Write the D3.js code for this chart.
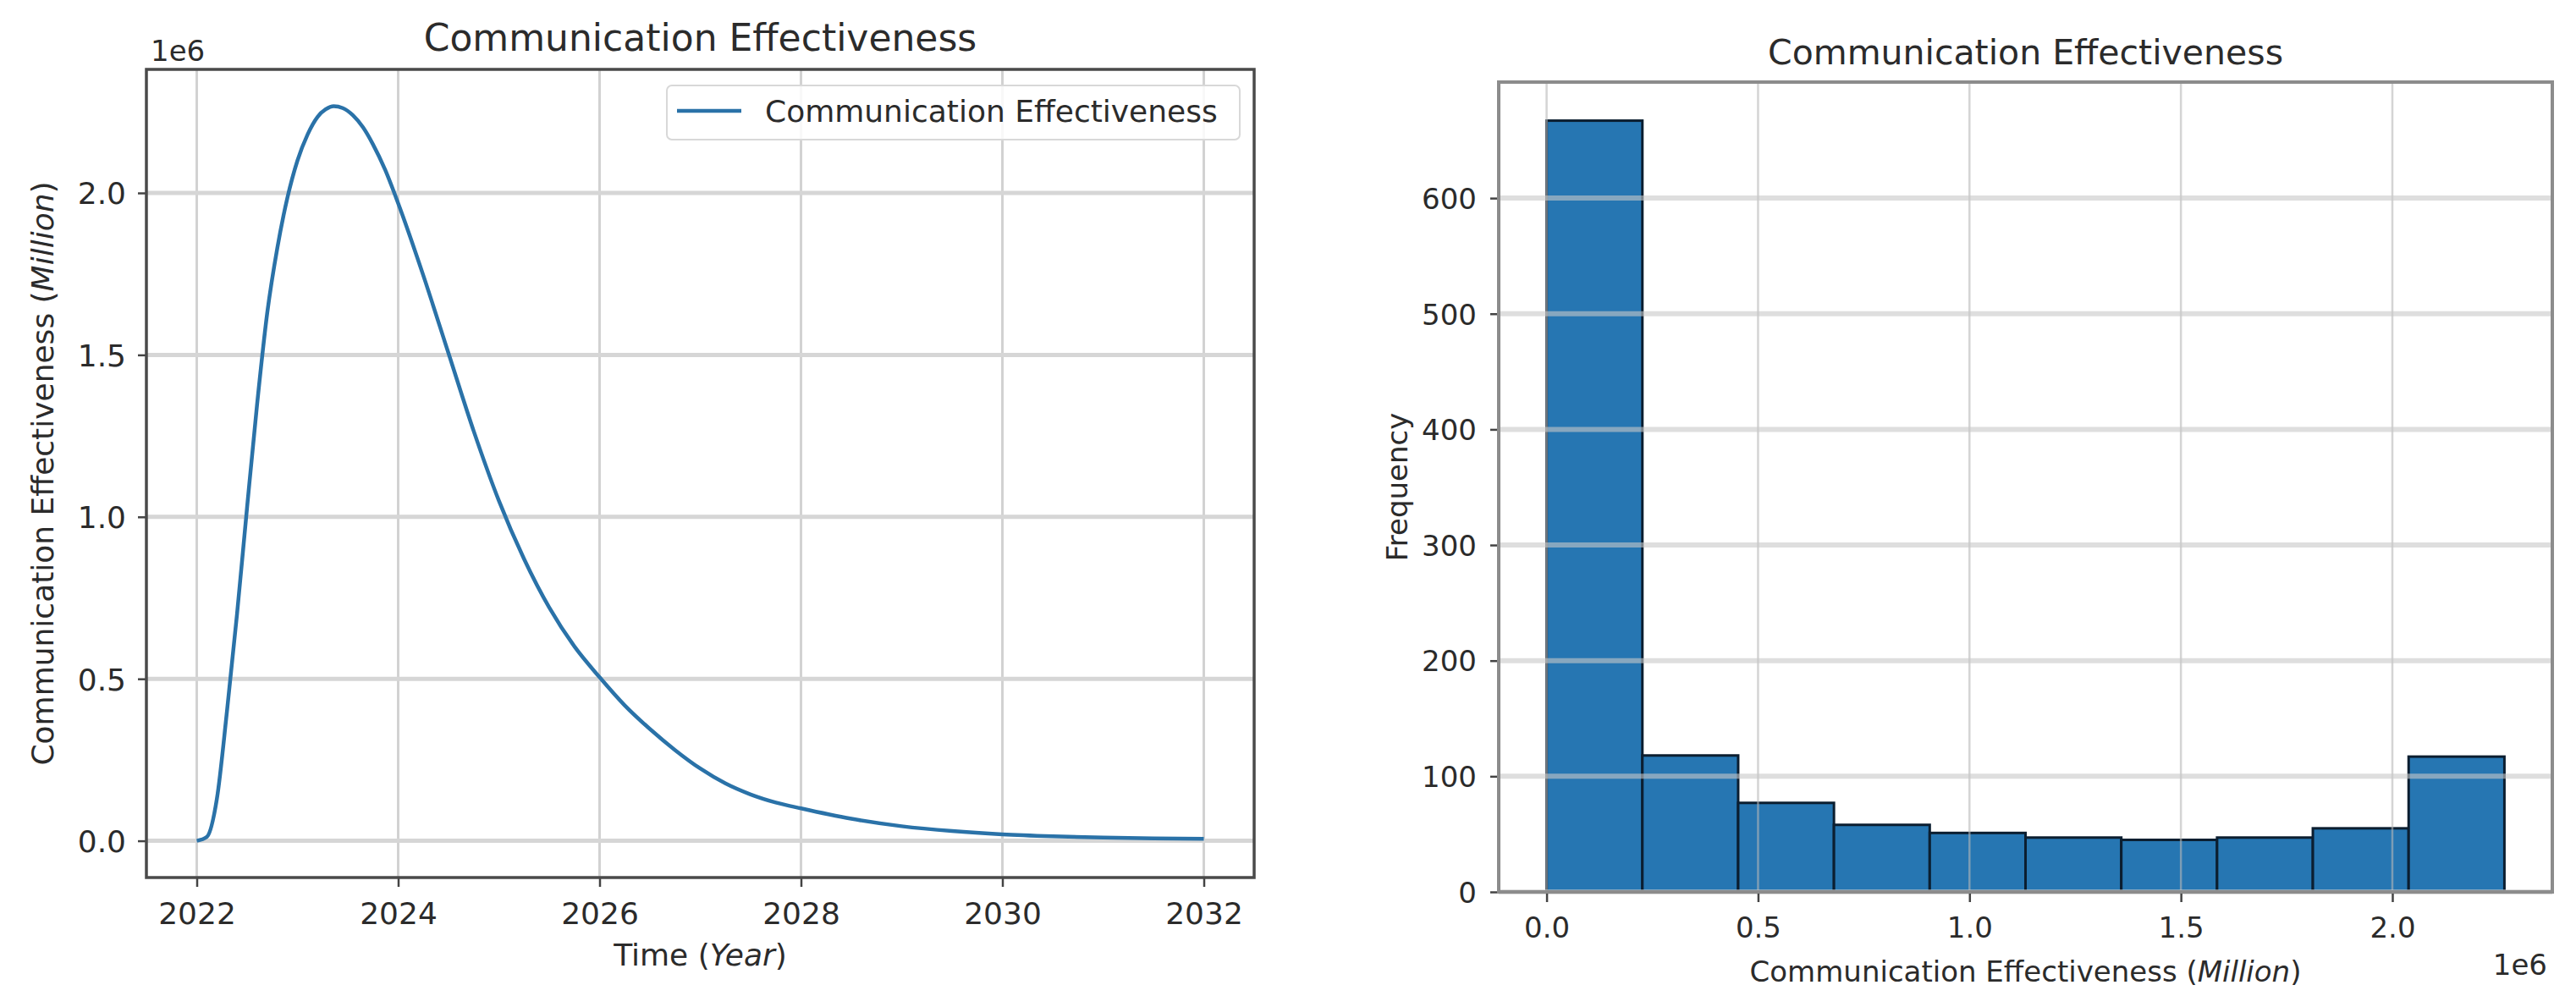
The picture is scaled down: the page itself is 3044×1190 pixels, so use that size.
<!DOCTYPE html>
<html>
<head>
<meta charset="utf-8">
<script src="https://cdn.jsdelivr.net/npm/d3@7"></script>
<style>
  html, body { margin: 0; padding: 0; background: #ffffff; }
  svg { display: block; }
  text { font-family: "DejaVu Sans", sans-serif; fill: #2b2b2b; }
</style>
</head>
<body>
<svg id="chart" width="3044" height="1190"></svg>
<script>
// ---------------- DATA ----------------
const chartTitle = "Communication Effectiveness";
const seriesName = "Communication Effectiveness";

// Line chart: time (years) and communication effectiveness (raw units)
const timeYears = [2022.0, 2022.1, 2022.2, 2022.3, 2022.4, 2022.5, 2022.6, 2022.7, 2022.8, 2022.9,
  2023.0, 2023.1, 2023.2, 2023.28, 2023.36, 2023.45, 2023.55, 2023.65, 2023.75, 2023.87,
  2024.0, 2024.25, 2024.5, 2024.75, 2025.0, 2025.25, 2025.5, 2025.75, 2026.0, 2026.25,
  2026.5, 2026.75, 2027.0, 2027.25, 2027.5, 2027.75, 2028.0, 2028.5, 2029.0, 2029.5,
  2030.0, 2030.5, 2031.0, 2031.5, 2032.0];
const effectiveness = [0, 12000, 130000, 400000, 700000, 1030000, 1350000, 1630000, 1830000, 1985000,
  2100000, 2180000, 2235000, 2258000, 2268000, 2262000, 2240000, 2203000, 2150000, 2072000,
  1968000, 1745000, 1505000, 1265000, 1050000, 870000, 720000, 600000, 505000, 418000,
  345000, 280000, 223000, 177000, 143000, 118000, 100000, 68000, 45000, 30000,
  20000, 14000, 10000, 7500, 6000];

// Histogram: 10 bins from 0 to 2.265e6
const binEdges = [0, 226500, 453000, 679500, 906000, 1132500, 1359000, 1585500, 1812000, 2038500, 2265000];
const binCounts = [667, 118, 77, 58, 51, 47, 45, 47, 55, 117];

const leftXTicks = [2022, 2024, 2026, 2028, 2030, 2032];
const leftYTicks = [0, 500000, 1000000, 1500000, 2000000];
const rightXTicks = [0, 500000, 1000000, 1500000, 2000000];
const rightYTicks = [0, 100, 200, 300, 400, 500, 600];

// ---------------- LAYOUT ----------------
const svg = d3.select("#chart");

function pad(ext) { const m = (ext[1] - ext[0]) * 0.05; return [ext[0] - m, ext[1] + m]; }

// ===== LEFT: line chart =====
const L = { left: 173, right: 1482, top: 82, bottom: 1037 };
const xL = d3.scaleLinear().domain(pad(d3.extent(timeYears))).range([L.left, L.right]);
const yL = d3.scaleLinear().domain(pad([0, d3.max(effectiveness)])).range([L.bottom, L.top]);

const gL = svg.append("g");
// grid
gL.append("g").selectAll("line").data(leftXTicks).join("line")
  .attr("x1", d => xL(d)).attr("x2", d => xL(d)).attr("y1", L.top).attr("y2", L.bottom)
  .attr("stroke", "#d2d2d2").attr("stroke-width", 3);
gL.append("g").selectAll("line").data(leftYTicks).join("line")
  .attr("x1", L.left).attr("x2", L.right).attr("y1", d => yL(d)).attr("y2", d => yL(d))
  .attr("stroke", "#d6d6d6").attr("stroke-width", 5);

// line
const pts = timeYears.map((t, i) => [t, effectiveness[i]]);
gL.append("path").datum(pts)
  .attr("fill", "none").attr("stroke", "#2a72a8").attr("stroke-width", 4.5)
  .attr("d", d3.line().x(d => xL(d[0])).y(d => yL(d[1])).curve(d3.curveMonotoneX));

// axes
const axL_x = gL.append("g").attr("transform", `translate(0,${L.bottom})`)
  .call(d3.axisBottom(xL).tickValues(leftXTicks).tickFormat(d3.format("d")).tickSize(11));
const axL_y = gL.append("g").attr("transform", `translate(${L.left},0)`)
  .call(d3.axisLeft(yL).tickValues(leftYTicks).tickFormat(d => (d / 1e6).toFixed(1)).tickSize(10));
[axL_x, axL_y].forEach(a => {
  a.select(".domain").remove();
  a.selectAll(".tick line").attr("stroke", "#444").attr("stroke-width", 2.5);
  a.selectAll(".tick text").attr("font-size", 36).attr("fill", "#2b2b2b").attr("font-family", "DejaVu Sans");
});
axL_x.selectAll(".tick text").attr("y", 55).attr("dy", 0);
axL_y.selectAll(".tick text").attr("x", -24).attr("dy", "0.36em");

// spines
gL.append("rect").attr("x", L.left).attr("y", L.top).attr("width", L.right - L.left).attr("height", L.bottom - L.top)
  .attr("fill", "none").attr("stroke", "#4a4a4a").attr("stroke-width", 3.5);

// labels
gL.append("text").attr("x", (L.left + L.right) / 2).attr("y", 60).attr("text-anchor", "middle")
  .attr("font-size", 44).text(chartTitle);
gL.append("text").attr("x", 178).attr("y", 72).attr("font-size", 34).text("1e6");
const xlabL = gL.append("text").attr("x", (L.left + L.right) / 2).attr("y", 1141).attr("text-anchor", "middle").attr("font-size", 36);
xlabL.append("tspan").text("Time (");
xlabL.append("tspan").attr("font-style", "italic").text("Year");
xlabL.append("tspan").text(")");
const ylabL = gL.append("text").attr("transform", `translate(63,${(L.top + L.bottom) / 2}) rotate(-90)`)
  .attr("text-anchor", "middle").attr("font-size", 36);
ylabL.append("tspan").text("Communication Effectiveness (");
ylabL.append("tspan").attr("font-style", "italic").text("Million");
ylabL.append("tspan").text(")");

// legend
const lg = gL.append("g");
lg.append("rect").attr("x", 788).attr("y", 101).attr("width", 677).attr("height", 64).attr("rx", 6)
  .attr("fill", "#ffffff").attr("fill-opacity", 0.85).attr("stroke", "#d8d8d8").attr("stroke-width", 2);
lg.append("line").attr("x1", 800).attr("x2", 876).attr("y1", 131).attr("y2", 131)
  .attr("stroke", "#2a72a8").attr("stroke-width", 4.5);
lg.append("text").attr("x", 904).attr("y", 131).attr("dy", "0.36em").attr("font-size", 36).text(seriesName);

// ===== RIGHT: histogram =====
const R = { left: 1771, right: 3016, top: 97, bottom: 1054 };
const xR = d3.scaleLinear().domain(pad(d3.extent(binEdges))).range([R.left, R.right]);
const yR = d3.scaleLinear().domain([0, d3.max(binCounts) * 1.05]).range([R.bottom, R.top]);
const gR = svg.append("g");

const bins = binCounts.map((c, i) => ({ x0: binEdges[i], x1: binEdges[i + 1], c }));
gR.append("g").selectAll("rect").data(bins).join("rect")
  .attr("x", d => xR(d.x0)).attr("width", d => xR(d.x1) - xR(d.x0))
  .attr("y", d => yR(d.c)).attr("height", d => yR(0) - yR(d.c))
  .attr("fill", "#2676b2").attr("stroke", "#0b1e30").attr("stroke-width", 3);

// grid on top
gR.append("g").selectAll("line").data(rightXTicks).join("line")
  .attr("x1", d => xR(d)).attr("x2", d => xR(d)).attr("y1", R.top).attr("y2", R.bottom)
  .attr("stroke", "#b8b8b8").attr("stroke-opacity", 0.6).attr("stroke-width", 2.5);
gR.append("g").selectAll("line").data(rightYTicks).join("line")
  .attr("x1", R.left).attr("x2", R.right).attr("y1", d => yR(d)).attr("y2", d => yR(d))
  .attr("stroke", "#c8c8c8").attr("stroke-opacity", 0.6).attr("stroke-width", 6);

const axR_x = gR.append("g").attr("transform", `translate(0,${R.bottom})`)
  .call(d3.axisBottom(xR).tickValues(rightXTicks).tickFormat(d => (d / 1e6).toFixed(1)).tickSize(12));
const axR_y = gR.append("g").attr("transform", `translate(${R.left},0)`)
  .call(d3.axisLeft(yR).tickValues(rightYTicks).tickFormat(d3.format("d")).tickSize(10));
[axR_x, axR_y].forEach(a => {
  a.select(".domain").remove();
  a.selectAll(".tick line").attr("stroke", "#444").attr("stroke-width", 2.5);
  a.selectAll(".tick text").attr("font-size", 34).attr("fill", "#2b2b2b").attr("font-family", "DejaVu Sans");
});
axR_x.selectAll(".tick text").attr("y", 54).attr("dy", 0);
axR_y.selectAll(".tick text").attr("x", -26).attr("dy", "0.36em");

gR.append("rect").attr("x", R.left).attr("y", R.top).attr("width", R.right - R.left).attr("height", R.bottom - R.top)
  .attr("fill", "none").attr("stroke", "#8c8c8c").attr("stroke-width", 4);

gR.append("text").attr("x", (R.left + R.right) / 2).attr("y", 76).attr("text-anchor", "middle")
  .attr("font-size", 41).text(chartTitle);
const xlabR = gR.append("text").attr("x", (R.left + R.right) / 2).attr("y", 1160).attr("text-anchor", "middle").attr("font-size", 34);
xlabR.append("tspan").text("Communication Effectiveness (");
xlabR.append("tspan").attr("font-style", "italic").text("Million");
xlabR.append("tspan").text(")");
gR.append("text").attr("x", 3010).attr("y", 1152).attr("text-anchor", "end").attr("font-size", 34).text("1e6");
gR.append("text").attr("transform", `translate(1663,${(R.top + R.bottom) / 2}) rotate(-90)`)
  .attr("text-anchor", "middle").attr("font-size", 34).text("Frequency");
</script>
</body>
</html>
